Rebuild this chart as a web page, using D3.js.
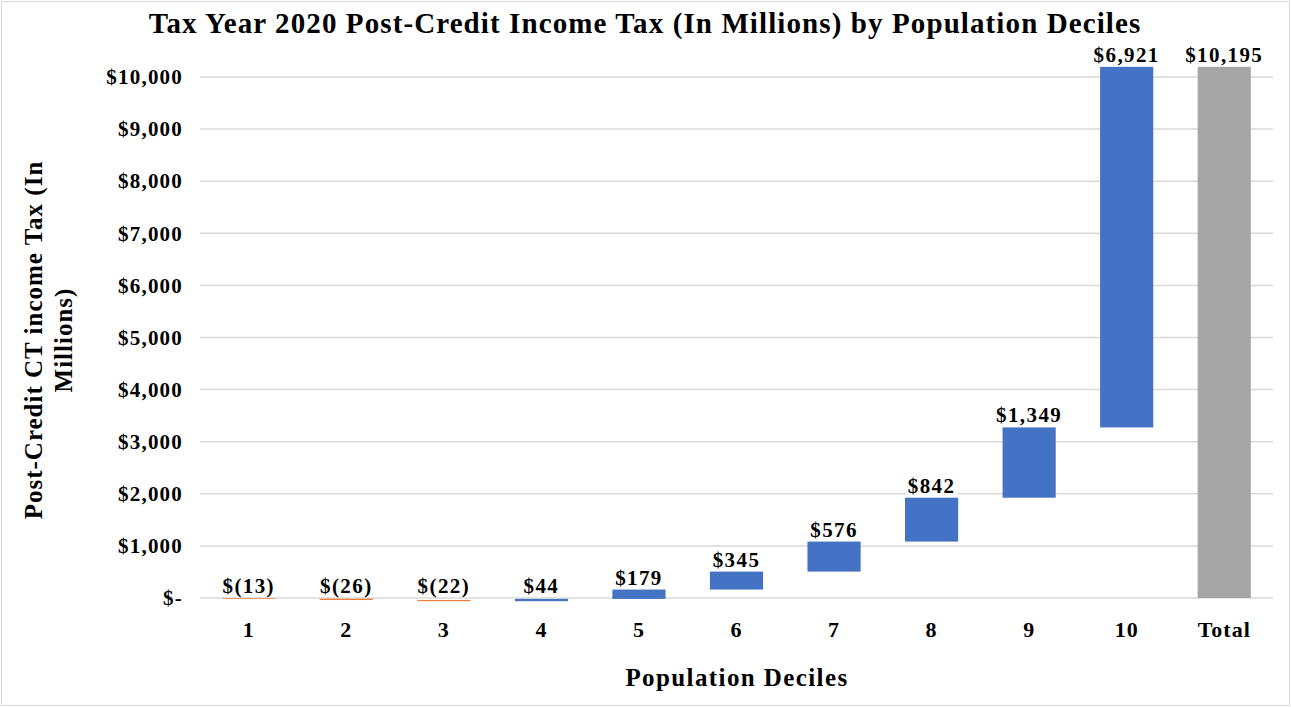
<!DOCTYPE html>
<html>
<head>
<meta charset="utf-8">
<script src="https://cdn.jsdelivr.net/npm/d3@7"></script>
<style>
  html, body { margin: 0; padding: 0; background: #fff; }
  svg { display: block; }
  text { font-family: "Liberation Serif", "DejaVu Serif", serif; font-weight: bold; fill: #000; }
</style>
</head>
<body>
<svg id="chart" width="1291" height="707"></svg>
<script>
// Post-credit income tax by population decile, in millions of dollars
const categories = ["1", "2", "3", "4", "5", "6", "7", "8", "9", "10"];
const changes = [-13, -26, -22, 44, 179, 345, 576, 842, 1349, 6921];
const totalLabel = "Total";
const yTicks = [0, 1000, 2000, 3000, 4000, 5000, 6000, 7000, 8000, 9000, 10000];

const colors = { increase: "#4472C4", decrease: "#ED7D31", total: "#A5A5A5" };

const W = 1291, H = 707;
const margin = { left: 200, right: 18, top: 77, bottom: 109 };
const svg = d3.select("#chart");

// Outer chart border
svg.append("rect")
  .attr("x", 1.5).attr("y", 1.5).attr("width", W - 3).attr("height", H - 3)
  .attr("fill", "#fff").attr("stroke", "#d9d9d9").attr("stroke-width", 1);

// Build waterfall steps
let running = 0;
const steps = categories.map((c, i) => {
  const start = running;
  running += changes[i];
  return { cat: c, value: changes[i], start, end: running, type: changes[i] >= 0 ? "increase" : "decrease" };
});
steps.push({ cat: totalLabel, value: running, start: 0, end: running, type: "total" });

const x = d3.scaleBand()
  .domain(steps.map(d => d.cat))
  .range([margin.left, W - margin.right])
  .paddingInner(0.455).paddingOuter(0.2275);

const y = d3.scaleLinear()
  .domain([0, 10000])
  .range([H - margin.bottom, margin.top]);

const fmt = v => {
  const s = d3.format(",")(Math.abs(v));
  return v < 0 ? "$(" + s + ")" : "$" + s;
};

// Gridlines
svg.append("g")
  .selectAll("line")
  .data(yTicks)
  .join("line")
  .attr("x1", margin.left).attr("x2", W - margin.right)
  .attr("y1", d => y(d)).attr("y2", d => y(d))
  .attr("stroke", "#d9d9d9").attr("stroke-width", 1.5);

// Y axis tick labels
const yAxis = d3.axisLeft(y)
  .tickValues(yTicks)
  .tickSize(0)
  .tickPadding(17)
  .tickFormat(d => d === 0 ? "$-" : "$" + d3.format(",")(d));
const yg = svg.append("g").attr("transform", `translate(${margin.left},0)`).call(yAxis);
yg.select(".domain").remove();
yg.selectAll("text")
  .style("font-family", '"Liberation Serif", serif')
  .style("font-weight", "bold")
  .style("font-size", "21px")
  .style("letter-spacing", "1.2px")
  .attr("fill", "#000");

// X axis category labels
const xAxis = d3.axisBottom(x).tickSize(0).tickPadding(23);
const xg = svg.append("g").attr("transform", `translate(0,${H - margin.bottom})`).call(xAxis);
xg.select(".domain").remove();
xg.selectAll("text")
  .style("font-family", '"Liberation Serif", serif')
  .style("font-weight", "bold")
  .style("font-size", "22px")
  .style("letter-spacing", "1px")
  .attr("fill", "#000");

// Bars
svg.append("g")
  .selectAll("rect")
  .data(steps)
  .join("rect")
  .attr("x", d => x(d.cat))
  .attr("width", x.bandwidth())
  .attr("y", d => y(Math.max(d.start, d.end)))
  .attr("height", d => Math.max(0.6, Math.abs(y(d.start) - y(d.end))))
  .attr("fill", d => colors[d.type]);

// Data labels with white backing
const labels = svg.append("g")
  .selectAll("g")
  .data(steps)
  .join("g")
  .attr("transform", d => `translate(${x(d.cat) + x.bandwidth() / 2},${y(Math.max(d.start, d.end, 0)) - 5})`);

labels.append("text")
  .attr("text-anchor", "middle")
  .style("font-size", "21px")
  .style("letter-spacing", "1.4px")
  .text(d => fmt(d.value));

labels.each(function () {
  const g = d3.select(this);
  const bb = g.select("text").node().getBBox();
  g.insert("rect", "text")
    .attr("x", bb.x - 2).attr("y", bb.y + 2)
    .attr("width", bb.width + 4).attr("height", bb.height - 4)
    .attr("fill", "#fff");
});

// Title
svg.append("text")
  .attr("x", 645).attr("y", 33)
  .attr("text-anchor", "middle")
  .style("font-size", "29px")
  .style("letter-spacing", "1.1px")
  .text("Tax Year 2020 Post-Credit Income Tax (In Millions) by Population Deciles");

// X axis title
svg.append("text")
  .attr("x", 737).attr("y", 686)
  .attr("text-anchor", "middle")
  .style("font-size", "25px")
  .style("letter-spacing", "1.4px")
  .text("Population Deciles");

// Y axis title (two lines)
const yt = svg.append("text")
  .attr("transform", "rotate(-90)")
  .attr("text-anchor", "middle")
  .style("font-size", "25px")
  .style("letter-spacing", "1px");
yt.append("tspan").attr("x", -340).attr("y", 42).text("Post-Credit CT income Tax (In");
yt.append("tspan").attr("x", -340).attr("y", 72).text("Millions)");
</script>
</body>
</html>
